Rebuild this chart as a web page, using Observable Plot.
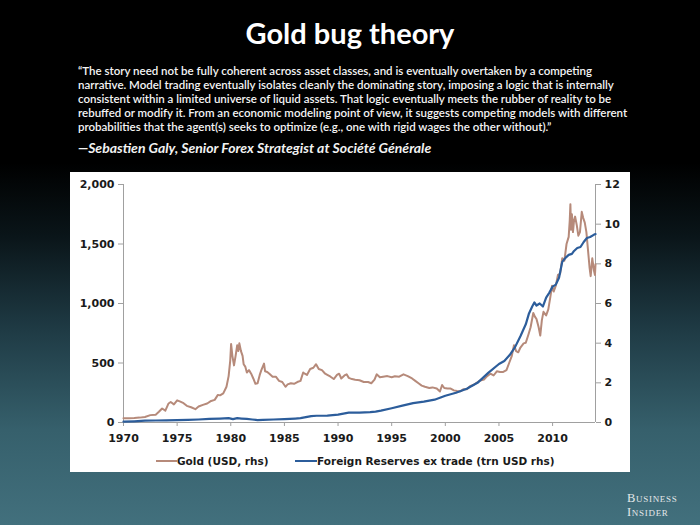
<!DOCTYPE html>
<html><head><meta charset="utf-8">
<script src="https://cdn.jsdelivr.net/npm/d3@7"></script>
<script src="https://cdn.jsdelivr.net/npm/@observablehq/plot@0.6"></script>
<style>
html,body{margin:0;padding:0;}
body{width:700px;height:525px;position:relative;overflow:hidden;
background:linear-gradient(to bottom,#000 0%,#000 31%,#0a1519 45%,#1f3b45 63%,#36606c 82%,#42707d 100%);
font-family:Lato,"Open Sans",sans-serif;}
#title{position:absolute;left:0;width:700px;top:15px;text-align:center;color:#fff;font-weight:bold;font-size:29px;line-height:36px;}
#quote{position:absolute;left:78px;top:64px;color:#f4f4f4;font-size:11.5px;font-weight:600;line-height:14px;white-space:nowrap;}
#who{position:absolute;left:78px;top:139px;color:#f2f2f2;font-size:14px;font-style:italic;font-weight:bold;white-space:nowrap;}
#box{position:absolute;left:70px;top:172px;width:560px;height:300px;background:#fff;}
#legend{position:absolute;left:0;top:281px;width:560px;height:16px;font-family:"DejaVu Sans";font-weight:bold;font-size:10.5px;color:#1a1a1a;}
.item{position:absolute;top:0;display:flex;align-items:center;height:16px;}
.sw{display:inline-block;height:2px;}
.logo{position:absolute;left:627px;color:#e4e8ea;font-family:"Liberation Serif",serif;font-variant:small-caps;font-size:12.5px;line-height:12px;letter-spacing:0.7px;}
</style></head>
<body>
<div id="title">Gold bug theory</div>
<div id="quote"></div>
<div id="who">—Sebastien Galy, Senior Forex Strategist at Société Générale</div>
<div id="box"><div id="chart"></div><div id="legend"></div></div>
<div class="logo" style="top:492px">Business</div>
<div class="logo" style="top:506px">Insider</div>
<script>
const quoteLines = [
"“The story need not be fully coherent across asset classes, and is eventually overtaken by a competing",
"narrative. Model trading eventually isolates cleanly the dominating story, imposing a logic that is internally",
"consistent within a limited universe of liquid assets. That logic eventually meets the rubber of reality to be",
"rebuffed or modify it. From an economic modeling point of view, it suggests competing models with different",
"probabilities that the agent(s) seeks to optimize (e.g., one with rigid wages the other without).”"
];

const goldYears = [1970,1970.5,1971,1971.5,1972,1972.5,1973,1973.3,1973.6,1973.9,1974.2,1974.4,1974.7,1975,1975.3,1975.6,1975.9,1976.3,1976.7,1977,1977.4,1977.8,1978.1,1978.5,1978.8,1979,1979.3,1979.6,1979.8,1979.95,1980.03,1980.15,1980.3,1980.45,1980.6,1980.7,1980.8,1980.95,1981.1,1981.2,1981.35,1981.5,1981.7,1981.9,1982.1,1982.3,1982.5,1982.7,1982.85,1983.1,1983.2,1983.4,1983.6,1983.9,1984.2,1984.5,1984.8,1985.1,1985.3,1985.6,1985.9,1986.2,1986.5,1986.75,1986.9,1987.1,1987.4,1987.7,1987.95,1988.2,1988.5,1988.8,1989,1989.3,1989.6,1989.9,1990.1,1990.3,1990.6,1990.8,1991,1991.3,1991.6,1992,1992.4,1992.8,1993.1,1993.4,1993.6,1993.9,1994.2,1994.6,1995,1995.3,1995.7,1996.1,1996.5,1996.9,1997.2,1997.5,1997.8,1998.1,1998.5,1998.8,1999.2,1999.5,1999.7,1999.9,2000.2,2000.5,2000.8,2001.1,2001.4,2001.7,2002,2002.3,2002.6,2002.95,2003.2,2003.6,2003.9,2004.2,2004.5,2004.8,2005.1,2005.4,2005.7,2005.95,2006.2,2006.4,2006.6,2006.8,2007,2007.3,2007.5,2007.75,2007.95,2008.2,2008.35,2008.5,2008.7,2008.85,2009,2009.15,2009.4,2009.6,2009.8,2009.95,2010.1,2010.3,2010.5,2010.7,2010.9,2011.1,2011.3,2011.5,2011.6,2011.66,2011.72,2011.8,2011.9,2012,2012.1,2012.25,2012.4,2012.55,2012.72,2012.85,2013,2013.15,2013.3,2013.45,2013.55,2013.7,2013.85,2013.95,2014];
const goldValues = [35,36,38,41,46,62,66,90,118,100,160,172,152,186,175,162,140,128,112,134,148,160,178,190,232,228,245,300,390,520,660,560,480,560,650,600,665,600,560,490,470,420,440,410,370,325,330,400,440,495,430,425,410,385,385,350,340,300,320,330,325,340,350,420,410,400,450,460,490,450,440,410,400,385,365,400,410,370,395,405,375,365,360,355,340,340,330,360,405,380,385,390,380,388,385,405,390,370,350,330,310,300,290,295,285,260,315,290,285,285,270,265,262,280,280,305,315,335,350,360,390,410,395,430,425,425,440,500,560,650,600,590,630,665,670,740,800,920,890,870,800,730,860,930,900,950,1060,1150,1100,1150,1240,1250,1380,1360,1500,1560,1700,1835,1620,1750,1600,1700,1730,1660,1570,1600,1770,1720,1680,1600,1450,1300,1230,1380,1280,1240,1330];

const resYears = [1970,1971,1972,1973,1974,1975,1976,1977,1978,1979,1979.8,1980.2,1980.6,1981,1981.5,1982,1982.5,1983,1984,1985,1986,1986.5,1987,1987.5,1988,1989,1990,1990.5,1991,1992,1993,1993.5,1994,1995,1996,1997,1998,1999,2000,2001,2002,2003,2004,2005,2005.5,2006,2006.5,2007,2007.5,2007.8,2008.1,2008.3,2008.5,2008.8,2009.1,2009.4,2009.7,2010,2010.3,2010.6,2010.9,2011.2,2011.5,2011.8,2012,2012.3,2012.6,2012.9,2013.2,2013.5,2013.8,2014];
const resValues = [0.04,0.06,0.09,0.1,0.11,0.12,0.13,0.15,0.18,0.2,0.22,0.17,0.22,0.2,0.18,0.15,0.12,0.13,0.15,0.17,0.2,0.22,0.27,0.32,0.34,0.35,0.4,0.45,0.5,0.5,0.52,0.55,0.6,0.72,0.85,0.98,1.05,1.15,1.35,1.5,1.7,2.0,2.5,2.95,3.1,3.4,3.8,4.35,4.95,5.5,5.85,6.05,5.9,6.0,5.85,6.3,6.55,6.85,6.95,7.3,8.1,8.3,8.45,8.5,8.65,8.8,8.85,9.1,9.3,9.35,9.45,9.5];

const xTicks = [1970,1975,1980,1985,1990,1995,2000,2005,2010];
const lhsTicks = [0,500,1000,1500,2000];
const rhsTicks = [0,2,4,6,8,10,12];
const labels = ["Gold (USD, rhs)","Foreign Reserves ex trade (trn USD rhs)"];
const colors = ["#b68a7a","#2c5d9b"];

const lhsMax = 2000, rhsMax = 12;
const gold = goldYears.map((y,i)=>({year:y, v:goldValues[i]}));
const res = resYears.map((y,i)=>({year:y, v:resValues[i]*lhsMax/rhsMax}));

document.getElementById("quote").innerHTML = quoteLines.map(l=>"<div>"+l+"</div>").join("");

const axisGray = "#a0a0a0";
const chart = Plot.plot({
  width:560, height:280,
  marginLeft:53, marginRight:35, marginTop:12, marginBottom:30,
  style:{fontFamily:"DejaVu Sans", fontSize:"11px", fontWeight:"bold", color:"#1a1a1a", background:"#fff"},
  x:{domain:[1970,2014]},
  y:{domain:[0,lhsMax]},
  marks:[
    Plot.axisX(xTicks,{tickFormat:d=>String(d), tickSize:4, tickPadding:8, stroke:axisGray, fill:"#1a1a1a", label:null}),
    Plot.axisY(lhsTicks,{anchor:"left", tickFormat:d3.format(","), tickSize:5, tickPadding:4, stroke:axisGray, fill:"#1a1a1a", label:null}),
    Plot.axisY(rhsTicks.map(t=>t*lhsMax/rhsMax),{anchor:"right", tickFormat:d=>String(Math.round(d*rhsMax/lhsMax)), tickSize:5, tickPadding:4, stroke:axisGray, fill:"#1a1a1a", label:null}),
    Plot.ruleX([1970],{stroke:axisGray}),
    Plot.ruleX([2014],{stroke:axisGray}),
    Plot.ruleY([0],{stroke:axisGray}),
    Plot.line(gold,{x:"year", y:"v", stroke:colors[0], strokeWidth:2}),
    Plot.line(res,{x:"year", y:"v", stroke:colors[1], strokeWidth:2.2})
  ]
});
document.getElementById("chart").appendChild(chart);

const lg = document.getElementById("legend");
const pos = [[86,21],[225,22]];
labels.forEach((t,i)=>{
  const it = document.createElement("div");
  it.className="item"; it.style.left = pos[i][0]+"px";
  it.innerHTML = `<span class="sw" style="width:${pos[i][1]}px;background:${colors[i]}"></span><span>${t}</span>`;
  lg.appendChild(it);
});
</script>
</body></html>
